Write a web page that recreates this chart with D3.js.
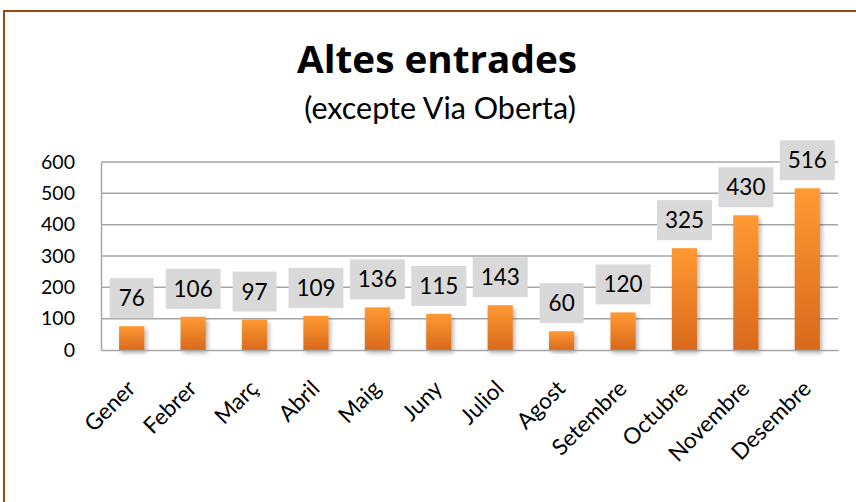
<!DOCTYPE html>
<html><head><meta charset="utf-8">
<script src="https://cdn.jsdelivr.net/npm/d3@7"></script>
<style>body{margin:0;background:#fff;} svg{display:block;}</style>
</head><body>
<script>
const categories = ["Gener","Febrer","Març","Abril","Maig","Juny","Juliol","Agost","Setembre","Octubre","Novembre","Desembre"];
const values = [76,106,97,109,136,115,143,60,120,325,430,516];
const yTicks = [0,100,200,300,400,500,600];
const title = "Altes entrades";
const subtitle = "(excepte Via Oberta)";

(function(){
const W = 856, H = 502;
const FONT = "Lato, 'Open Sans', sans-serif";
const svg = d3.select("body").append("svg").attr("width", W).attr("height", H);

const defs = svg.append("defs");
const grad = defs.append("linearGradient").attr("id","barGrad").attr("x1",0).attr("y1",0).attr("x2",0).attr("y2",1);
grad.append("stop").attr("offset","0%").attr("stop-color","#FF9A33");
grad.append("stop").attr("offset","100%").attr("stop-color","#D8691C");
const f = defs.append("filter").attr("id","shadow").attr("x","-50%").attr("y","-20%").attr("width","200%").attr("height","140%");
f.append("feDropShadow").attr("dx",2).attr("dy",3).attr("stdDeviation",2).attr("flood-color","#000").attr("flood-opacity",0.3);

// outer border
svg.append("rect").attr("x",4).attr("y",11).attr("width",W+20).attr("height",H+20)
  .attr("fill","none").attr("stroke","#9C4A0E").attr("stroke-width",2);

const pL = 101, pR = 838, pT = 162, pB = 350;
const x = d3.scaleBand().domain(categories).range([pL,pR]).paddingInner(0.59).paddingOuter(0.295);
const y = d3.scaleLinear().domain([0,600]).range([pB,pT]);

// gridlines
svg.append("g").selectAll("line").data(yTicks.filter(d=>d>0)).join("line")
  .attr("x1",pL).attr("x2",pR).attr("y1",d=>y(d)).attr("y2",d=>y(d))
  .attr("stroke","#A6A6A6").attr("stroke-width",1.5);

// y axis
const yAxis = svg.append("g").attr("transform",`translate(${pL},0)`)
  .call(d3.axisLeft(y).tickValues(yTicks).tickSize(0).tickPadding(26));
yAxis.select(".domain").attr("stroke","#A6A6A6").attr("stroke-width",1.5);
yAxis.selectAll("text").attr("font-family",FONT).attr("font-size",19.5).attr("fill","#000");

// bars
svg.append("g").selectAll("rect").data(values).join("rect")
  .attr("x",(d,i)=>x(categories[i])).attr("width",x.bandwidth())
  .attr("y",d=>y(d)).attr("height",d=>pB-y(d))
  .attr("fill","url(#barGrad)").attr("filter","url(#shadow)");

// x axis
const xAxis = svg.append("g").attr("transform",`translate(0,${pB})`)
  .call(d3.axisBottom(x).tickSize(0).tickPadding(0));
xAxis.select(".domain").attr("stroke","#A6A6A6").attr("stroke-width",1.5);
xAxis.selectAll("text").attr("font-family",FONT).attr("font-size",22.5).attr("fill","#000")
  .attr("text-anchor","end").attr("dy",0)
  .attr("transform","translate(5,40) rotate(-45)");

// data labels
const lg = svg.append("g").selectAll("g").data(values).join("g")
  .attr("transform",(d,i)=>`translate(${x(categories[i])+x.bandwidth()/2},${y(d)-8})`);
lg.each(function(d){
  const g = d3.select(this);
  const s = String(d);
  const w = s.length>=3 ? 55 : 44;
  g.append("rect").attr("x",-w/2).attr("y",-40).attr("width",w).attr("height",40).attr("fill","#D9D9D9");
  g.append("text").attr("x",0).attr("y",-12).attr("text-anchor","middle")
    .attr("font-family",FONT).attr("font-size",22.5).attr("fill","#000").text(s);
});

// titles
svg.append("text").attr("x",437).attr("y",73).attr("text-anchor","middle")
  .attr("font-family","'Open Sans', Lato, sans-serif").attr("font-weight","bold").attr("font-size",37)
  .attr("textLength",280).attr("lengthAdjust","spacingAndGlyphs").attr("fill","#000").text(title);
svg.append("text").attr("x",440).attr("y",119).attr("text-anchor","middle")
  .attr("font-family",FONT).attr("font-size",30.5).attr("fill","#000").text(subtitle);
})();
</script>
</body></html>
